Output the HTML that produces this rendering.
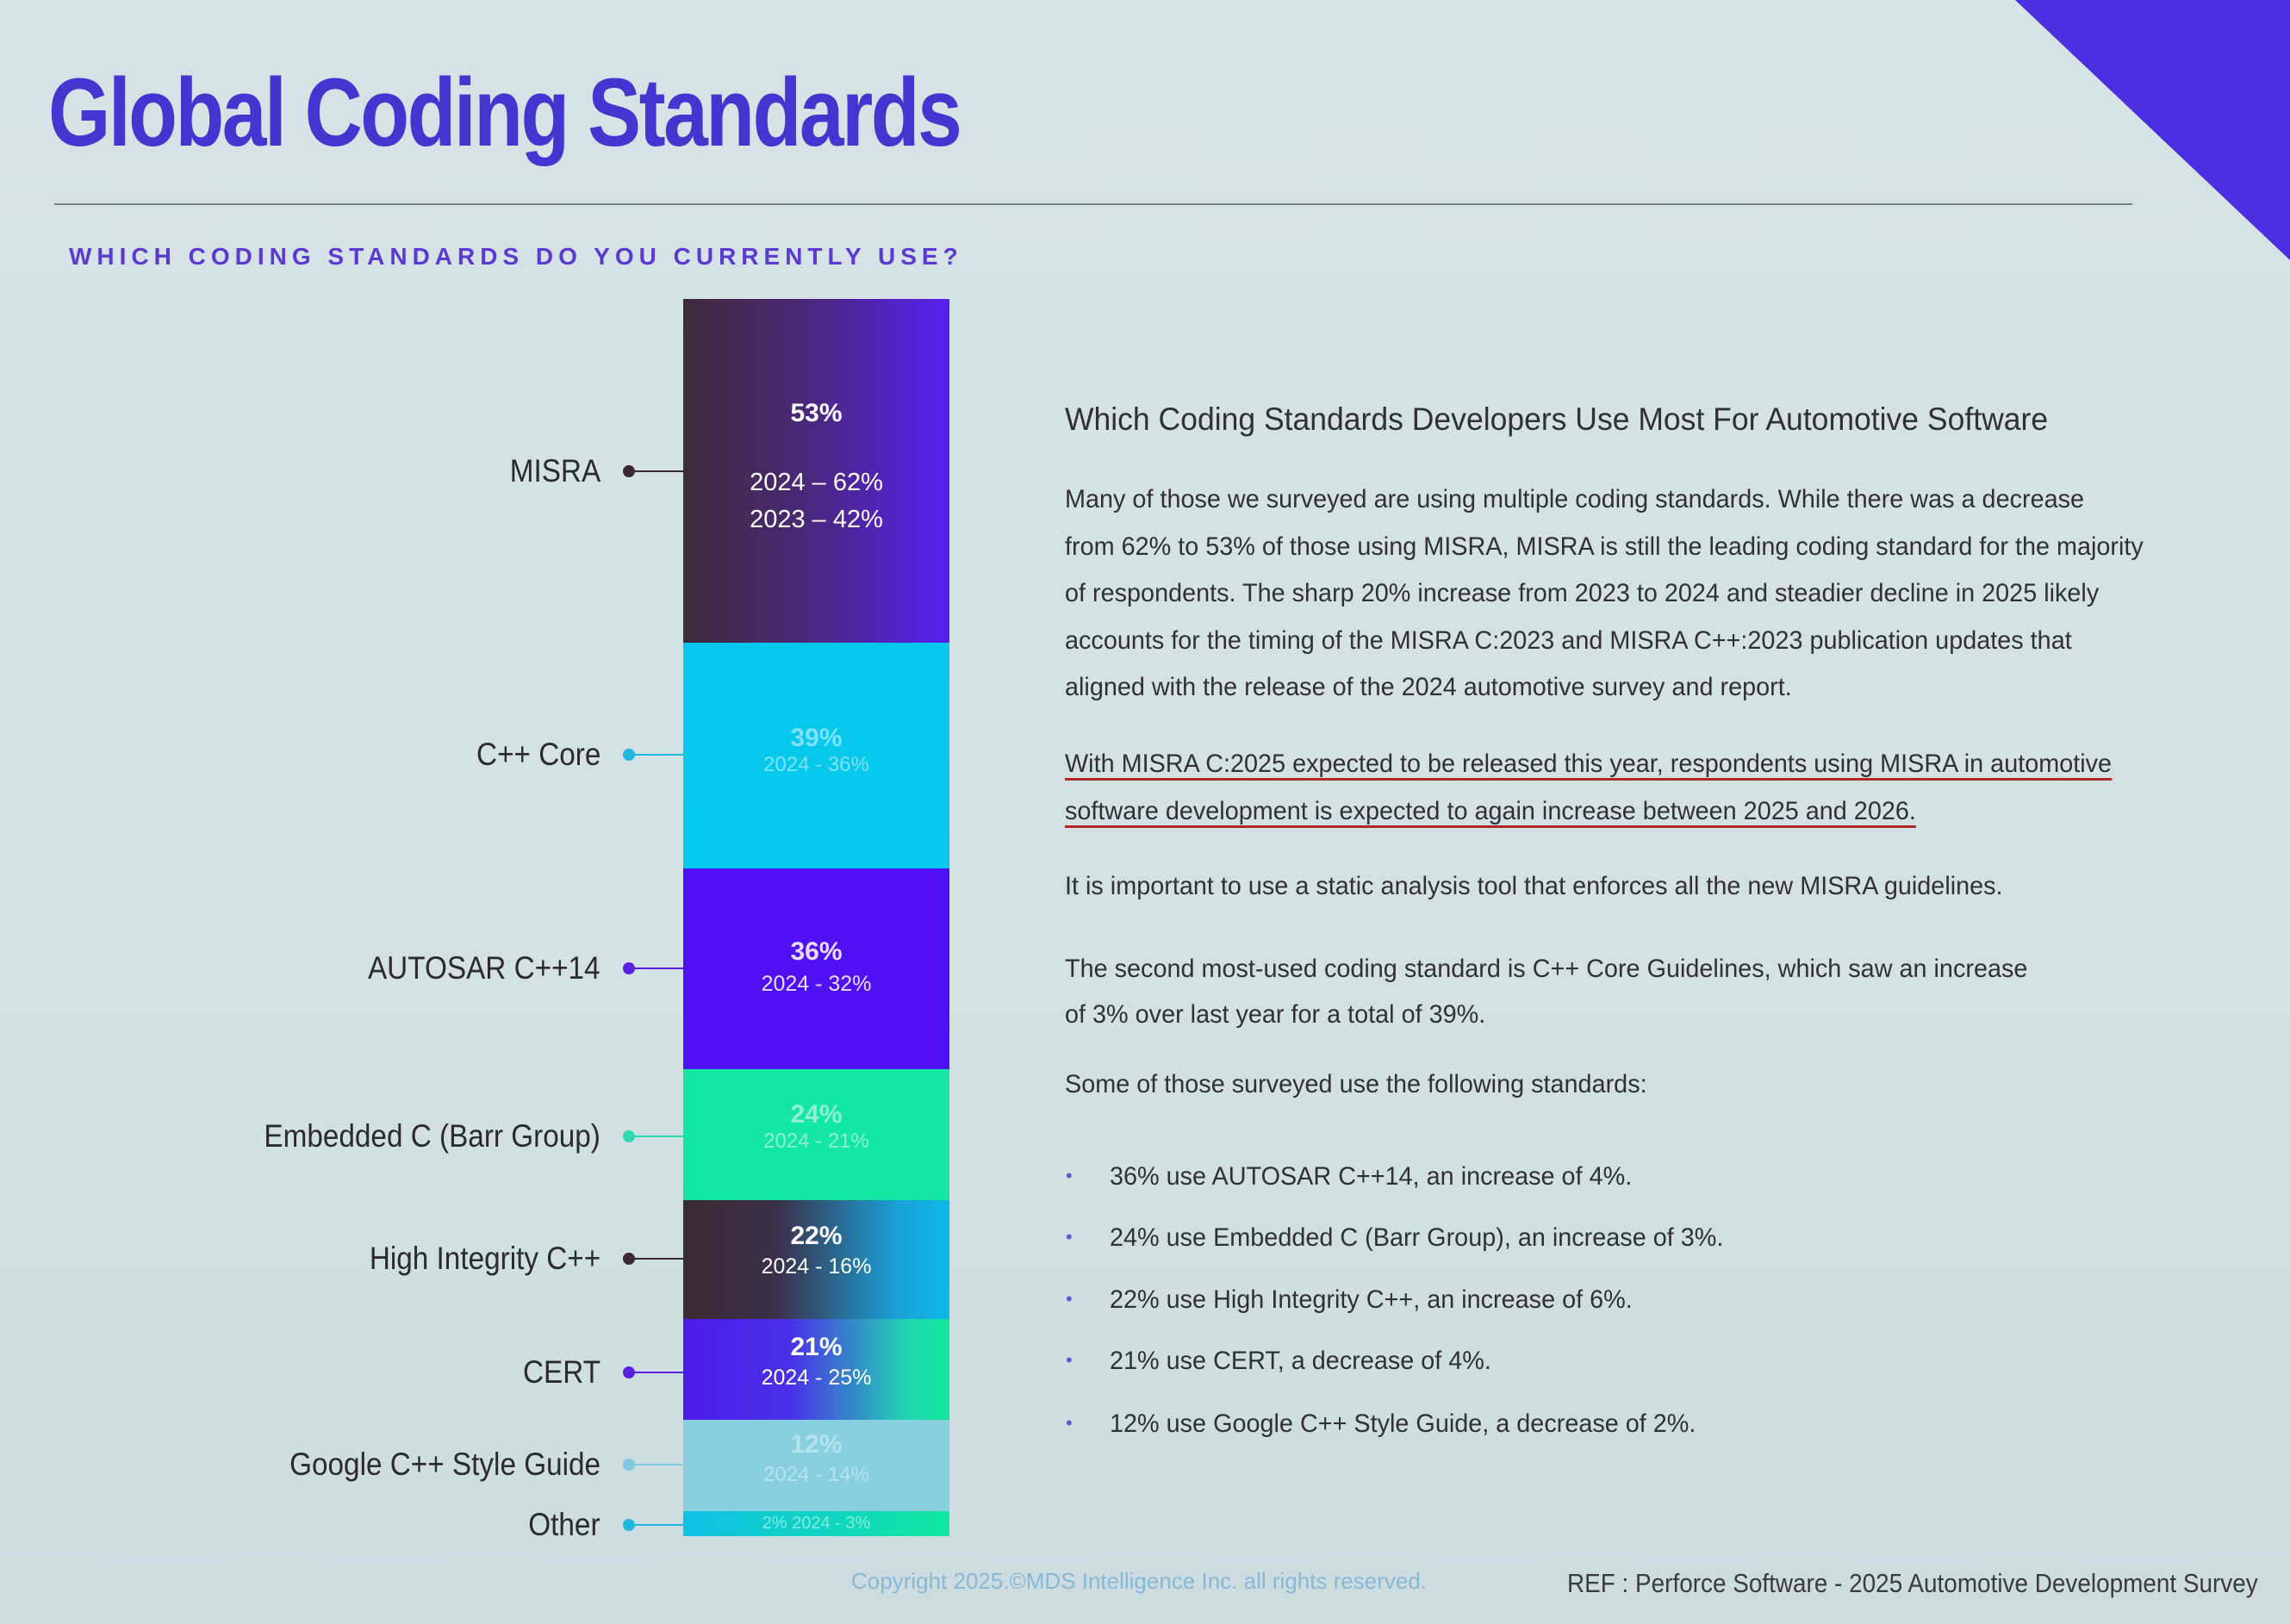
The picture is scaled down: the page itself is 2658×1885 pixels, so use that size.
<!DOCTYPE html>
<html><head><meta charset="utf-8"><style>
*{margin:0;padding:0;box-sizing:border-box}
body{width:2658px;height:1885px;overflow:hidden;position:relative;background:linear-gradient(180deg,#d6e3e6 0%,#d3e1e4 60%,#ccdcdf 100%);font-family:"Liberation Sans",sans-serif}
.a{position:absolute;white-space:nowrap}
.t{font-size:112px;font-weight:bold;color:#4434d0;left:56px;top:66px;letter-spacing:-3px;transform:scaleX(0.83);transform-origin:left}
.sub{left:80px;top:282px;font-size:28px;font-weight:bold;color:#5a3ad0;letter-spacing:6px}
.lab{right:1961px;font-size:37px;color:#2a2a30;transform:translateY(-50%) scaleX(0.9);transform-origin:right}
.dot{width:14px;height:14px;border-radius:50%;left:723px;transform:translateY(-50%)}
.ln{height:2px;left:730px;width:63px}
.seg{position:absolute;left:793px;width:309px;color:#fff;text-align:center;font-size:29px}
.seg b{display:block;font-size:30px}
.p{left:1236px;font-size:30px;color:#2f3038;transform:scaleX(0.96);transform-origin:left}
.bl{left:1237px;font-size:22px;color:#5b5bd0}
</style></head><body>
<svg class="a" style="left:0;top:0" width="2658" height="1885"><polygon points="2339,0 2658,0 2658,302" fill="#4a2ee0"/></svg>
<div class="a t">Global Coding Standards</div>
<div class="a" style="left:63px;top:236px;width:2412px;height:2px;background:#7a8488"></div>
<div class="a sub">WHICH CODING STANDARDS DO YOU CURRENTLY USE?</div>

<div class="seg" style="top:347px;height:399px;background:linear-gradient(90deg,#3e2a3a 0%,#4a2878 45%,#5620f0 100%)"><b style="margin-top:116px">53%</b><div style="margin-top:42px;line-height:43px">2024 – 62%<br>2023 – 42%</div></div>
<div class="seg" style="top:746px;height:262px;background:#05c8ec;color:#7fe2f6"><b style="margin-top:94px">39%</b><div style="font-size:24px">2024 - 36%</div></div>
<div class="seg" style="top:1008px;height:233px;background:#5010f4;color:#e8dcff"><b style="margin-top:80px">36%</b><div style="font-size:25px;margin-top:6px">2024 - 32%</div></div>
<div class="seg" style="top:1241px;height:152px;background:#14e6a4;color:#8ef2d0"><b style="margin-top:36px">24%</b><div style="font-size:24px">2024 - 21%</div></div>
<div class="seg" style="top:1393px;height:138px;background:linear-gradient(90deg,#3a2a32 0%,#3a3048 35%,#1aa0d8 80%,#10b8e8 100%)"><b style="margin-top:25px">22%</b><div style="font-size:25px;margin-top:4px">2024 - 16%</div></div>
<div class="seg" style="top:1531px;height:117px;background:linear-gradient(90deg,#4a1ce8 0%,#4a30e8 40%,#20d8b0 85%,#10e898 100%)"><b style="margin-top:16px">21%</b><div style="font-size:25px;margin-top:4px">2024 - 25%</div></div>
<div class="seg" style="top:1648px;height:106px;background:#88cfe0;color:#b6e4ee"><b style="margin-top:12px">12%</b><div style="font-size:24px;margin-top:4px">2024 - 14%</div></div>
<div class="seg" style="top:1754px;height:29px;background:linear-gradient(90deg,#10c0e6,#10e6a0);color:#80eee0;font-size:20px;line-height:29px">2% 2024 - 3%</div>

<div class="a lab" style="top:547px">MISRA</div><div class="a dot" style="top:547px;background:#3a2a30"></div><div class="a ln" style="top:546px;background:#3a2a30"></div>
<div class="a lab" style="top:876px">C++ Core</div><div class="a dot" style="top:876px;background:#20b8e0"></div><div class="a ln" style="top:875px;background:#20b8e0"></div>
<div class="a lab" style="top:1124px">AUTOSAR C++14</div><div class="a dot" style="top:1124px;background:#5a20e0"></div><div class="a ln" style="top:1123px;background:#5a20e0"></div>
<div class="a lab" style="top:1319px">Embedded C (Barr Group)</div><div class="a dot" style="top:1319px;background:#30d8b0"></div><div class="a ln" style="top:1318px;background:#30d8b0"></div>
<div class="a lab" style="top:1461px">High Integrity C++</div><div class="a dot" style="top:1461px;background:#3a2a30"></div><div class="a ln" style="top:1460px;background:#3a2a30"></div>
<div class="a lab" style="top:1593px">CERT</div><div class="a dot" style="top:1593px;background:#5a20e0"></div><div class="a ln" style="top:1592px;background:#5a20e0"></div>
<div class="a lab" style="top:1700px">Google C++ Style Guide</div><div class="a dot" style="top:1700px;background:#80c8e0"></div><div class="a ln" style="top:1699px;background:#80c8e0"></div>
<div class="a lab" style="top:1770px">Other</div><div class="a dot" style="top:1770px;background:#20b8e0"></div><div class="a ln" style="top:1769px;background:#20b8e0"></div>

<div class="a p" style="top:466px;font-size:37px">Which Coding Standards Developers Use Most For Automotive Software</div>
<div class="a p" style="top:553px;line-height:54.5px">Many of those we surveyed are using multiple coding standards. While there was a decrease<br>from 62% to 53% of those using MISRA, MISRA is still the leading coding standard for the majority<br>of respondents. The sharp 20% increase from 2023 to 2024 and steadier decline in 2025 likely<br>accounts for the timing of the MISRA C:2023 and MISRA C++:2023 publication updates that<br>aligned with the release of the 2024 automotive survey and report.</div>
<div class="a p" style="top:860px;line-height:54.5px"><span style="border-bottom:3px solid #b02828">With MISRA C:2025 expected to be released this year, respondents using MISRA in automotive</span><br><span style="border-bottom:3px solid #b02828">software development is expected to again increase between 2025 and 2026.</span></div>
<div class="a p" style="top:1012px">It is important to use a static analysis tool that enforces all the new MISRA guidelines.</div>
<div class="a p" style="top:1098px;line-height:53px">The second most-used coding standard is C++ Core Guidelines, which saw an increase<br>of 3% over last year for a total of 39%.</div>
<div class="a p" style="top:1242px">Some of those surveyed use the following standards:</div>
<div class="a bl" style="top:1352px">•</div><div class="a p" style="left:1288px;top:1349px">36% use AUTOSAR C++14, an increase of 4%.</div>
<div class="a bl" style="top:1423px">•</div><div class="a p" style="left:1288px;top:1420px">24% use Embedded C (Barr Group), an increase of 3%.</div>
<div class="a bl" style="top:1495px">•</div><div class="a p" style="left:1288px;top:1492px">22% use High Integrity C++, an increase of 6%.</div>
<div class="a bl" style="top:1566px">•</div><div class="a p" style="left:1288px;top:1563px">21% use CERT, a decrease of 4%.</div>
<div class="a bl" style="top:1639px">•</div><div class="a p" style="left:1288px;top:1636px">12% use Google C++ Style Guide, a decrease of 2%.</div>

<div class="a" style="left:988px;top:1820px;font-size:26px;color:#88b8d8">Copyright 2025.©MDS Intelligence Inc. all rights reserved.</div>
<div class="a" style="left:1819px;top:1820px;font-size:31px;color:#3a3a44;transform:scaleX(0.9);transform-origin:left">REF : Perforce Software - 2025 Automotive Development Survey</div>
</body></html>
